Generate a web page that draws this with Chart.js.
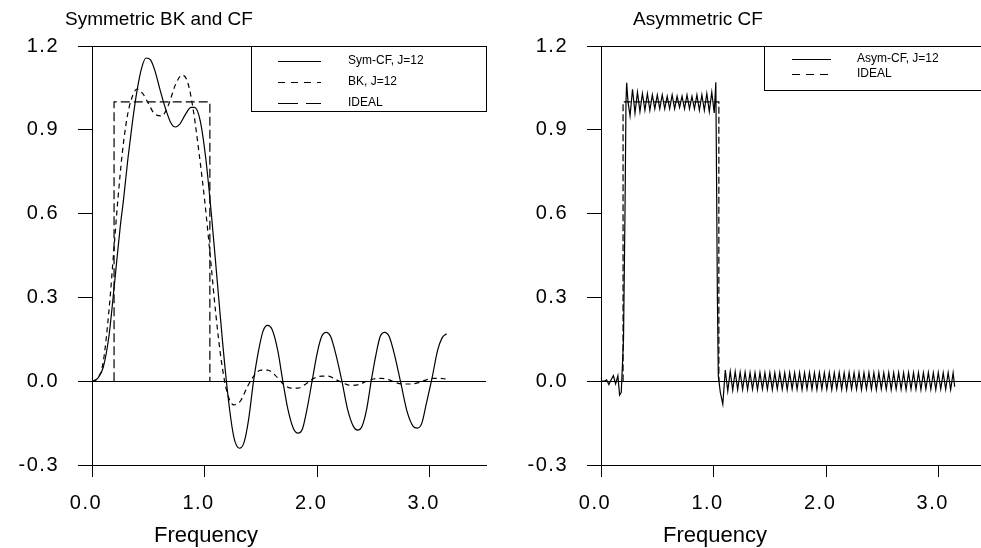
<!DOCTYPE html>
<html>
<head>
<meta charset="utf-8">
<script src="https://cdn.jsdelivr.net/npm/chart.js@4/dist/chart.umd.min.js"></script>
<style>
  html, body { margin: 0; padding: 0; background: #fff; overflow: hidden; }
  #left { position: absolute; left: 0; top: 0; width: 490px; height: 548px; }
  #right { position: absolute; left: 490px; top: 0; width: 510px; height: 548px; }
  canvas { display: block; }
</style>
</head>
<body>
<div id="left"><canvas id="c1" width="490" height="548"></canvas></div>
<div id="right"><canvas id="c2" width="510" height="548"></canvas></div>
<script>
const xTicks = [0, 1, 2, 3];
const yTicks = [-0.3, 0, 0.3, 0.6, 0.9, 1.2];

// left panel: symmetric CF filter
const symFreq = [0, 0.05, 0.1, 0.15, 0.2, 0.25, 0.28, 0.32, 0.36, 0.4, 0.44, 0.48, 0.52, 0.56, 0.6, 0.65,
  0.7, 0.74, 0.78, 0.83, 0.88, 0.91, 0.96, 1.01, 1.06, 1.11, 1.16, 1.21, 1.26, 1.31, 1.35, 1.39,
  1.435, 1.48, 1.52, 1.56, 1.6, 1.65, 1.695, 1.74, 1.79, 1.83, 1.87, 1.91, 1.955, 2.0, 2.04, 2.08,
  2.12, 2.17, 2.22, 2.27, 2.32, 2.36, 2.4, 2.44, 2.48, 2.52, 2.56, 2.6, 2.64, 2.69, 2.745, 2.8,
  2.85, 2.89, 2.93, 2.97, 3.02, 3.07, 3.11, 3.15];
const symVal = [0, 0.01, 0.05, 0.16, 0.35, 0.55, 0.65, 0.8, 0.93, 1.04, 1.12, 1.157, 1.15, 1.11, 1.05, 0.98,
  0.925, 0.91, 0.92, 0.955, 0.98, 0.98, 0.935, 0.8, 0.6, 0.37, 0.14, -0.06, -0.2, -0.24, -0.22, -0.14,
  0.0, 0.11, 0.18, 0.2, 0.185, 0.11, 0.0, -0.1, -0.17, -0.186, -0.17, -0.1, 0.0, 0.1, 0.16, 0.175,
  0.16, 0.09, 0.0, -0.1, -0.16, -0.175, -0.16, -0.1, 0.0, 0.09, 0.16, 0.175, 0.16, 0.09, -0.01, -0.11,
  -0.16, -0.168, -0.15, -0.08, 0.01, 0.11, 0.155, 0.17];

// left panel: Baxter-King filter
const bkFreq = [0, 0.05, 0.1, 0.15, 0.2, 0.23, 0.27, 0.31, 0.35, 0.4, 0.45, 0.5, 0.55, 0.62, 0.68, 0.74,
  0.8, 0.85, 0.9, 0.95, 1.0, 1.05, 1.1, 1.15, 1.2, 1.26, 1.32, 1.38, 1.44, 1.5, 1.56, 1.63, 1.7,
  1.77, 1.83, 1.9, 1.97, 2.04, 2.1, 2.17, 2.24, 2.3, 2.37, 2.44, 2.5, 2.57, 2.64, 2.7, 2.77, 2.84,
  2.9, 2.97, 3.03, 3.09, 3.14];
const bkVal = [0, 0.01, 0.07, 0.25, 0.5, 0.65, 0.82, 0.94, 1.01, 1.046, 1.03, 0.995, 0.96, 0.95, 0.99, 1.06,
  1.096, 1.07, 0.97, 0.82, 0.65, 0.45, 0.24, 0.07, -0.04, -0.085, -0.07, -0.02, 0.02, 0.04, 0.04, 0.02, -0.01,
  -0.025, -0.025, -0.01, 0.01, 0.018, 0.018, 0.005, -0.008, -0.015, -0.012, 0.0, 0.008, 0.01, 0.005, -0.005, -0.01, -0.01,
  -0.005, 0.005, 0.01, 0.01, 0.008];

// ideal band-pass (6 to 32 quarters)
const idealFreq = [0.196, 0.196, 1.047, 1.047];
const idealVal = [0, 1, 1, 0];

// right panel: asymmetric CF filter
const asymFreq = [0, 0.03, 0.05, 0.07, 0.09, 0.11, 0.13, 0.15, 0.165, 0.18, 0.2, 0.213, 0.222, 0.228, 0.24,
  0.258, 0.280, 0.302, 0.324, 0.346, 0.368, 0.390, 0.412, 0.434, 0.456,
  0.478, 0.500, 0.522, 0.544, 0.566, 0.588, 0.610, 0.632, 0.654, 0.676,
  0.698, 0.720, 0.742, 0.764, 0.786, 0.808, 0.830, 0.852, 0.874, 0.896,
  0.918, 0.940, 0.962, 0.984, 1.006,
  1.02, 1.026, 1.034, 1.042, 1.06, 1.082,
  1.104, 1.126, 1.148, 1.170, 1.192, 1.214, 1.236, 1.258, 1.280, 1.302,
  1.324, 1.346, 1.368, 1.390, 1.412, 1.434, 1.456, 1.478, 1.500, 1.522,
  1.544, 1.566, 1.588, 1.610, 1.632, 1.654, 1.676, 1.698, 1.720, 1.742,
  1.764, 1.786, 1.808, 1.830, 1.852, 1.874, 1.896, 1.918, 1.940, 1.962,
  1.984, 2.006, 2.028, 2.050, 2.072, 2.094, 2.116, 2.138, 2.160, 2.182,
  2.204, 2.226, 2.248, 2.270, 2.292, 2.314, 2.336, 2.358, 2.380, 2.402,
  2.424, 2.446, 2.468, 2.490, 2.512, 2.534, 2.556, 2.578, 2.600, 2.622,
  2.644, 2.666, 2.688, 2.710, 2.732, 2.754, 2.776, 2.798, 2.820, 2.842,
  2.864, 2.886, 2.908, 2.930, 2.952, 2.974, 2.996, 3.018, 3.040, 3.062,
  3.084, 3.106, 3.128, 3.142];
const asymVal = [0, 0, 0.005, -0.012, 0.005, 0.02, -0.01, 0.02, -0.05, -0.04, 0.15, 0.6, 1.0, 1.068, 1.0,
  0.95, 1.045, 0.96, 1.035, 0.965, 1.03, 0.97, 1.03, 0.97, 1.025,
  0.975, 1.025, 0.975, 1.025, 0.975, 1.02, 0.975, 1.025, 0.975, 1.02,
  0.98, 1.02, 0.975, 1.025, 0.975, 1.02, 0.975, 1.025, 0.97, 1.025,
  0.97, 1.03, 0.965, 1.035, 0.96,
  1.07, 0.75, 0.3, 0.02, -0.04, -0.082,
  0.04, -0.035, 0.035, -0.032, 0.034, -0.03, 0.032, -0.03, 0.032, -0.03,
  0.031, -0.029, 0.03, -0.03, 0.031, -0.028, 0.03, -0.029, 0.031, -0.03,
  0.03, -0.028, 0.031, -0.029, 0.03, -0.03, 0.031, -0.028, 0.03, -0.029,
  0.031, -0.03, 0.03, -0.028, 0.031, -0.029, 0.03, -0.03, 0.031, -0.028,
  0.03, -0.029, 0.031, -0.03, 0.03, -0.028, 0.031, -0.029, 0.03, -0.03,
  0.031, -0.028, 0.03, -0.029, 0.031, -0.03, 0.03, -0.028, 0.031, -0.029,
  0.03, -0.03, 0.031, -0.028, 0.03, -0.029, 0.031, -0.03, 0.03, -0.028,
  0.031, -0.029, 0.03, -0.03, 0.031, -0.028, 0.03, -0.029, 0.031, -0.03,
  0.03, -0.028, 0.031, -0.029, 0.03, -0.03, 0.031, -0.028, 0.03, -0.029,
  0.031, -0.03, 0.03, -0.02];

const pts = (xs, ys) => xs.map((x, i) => ({ x: x, y: ys[i] }));
const FONT = '"Liberation Sans", Arial, sans-serif';
const TICK_PX = 20;

function line(label, xs, ys, dash, smooth) {
  return {
    label: label,
    data: pts(xs, ys),
    borderColor: "#000",
    borderWidth: 1.2,
    borderDash: dash,
    pointRadius: 0,
    fill: false,
    tension: 0,
    cubicInterpolationMode: smooth ? "monotone" : "default",
  };
}

// titles, x tick labels, axis caption and boxed legend
function panelText(o) {
  return {
    id: "panelText",
    beforeDraw(chart) {
      chart.ctx.letterSpacing = "1.5px";
    },
    afterDraw(chart) {
      const ctx = chart.ctx;
      const a = chart.chartArea;
      const xs = chart.scales.x;
      ctx.save();
      ctx.fillStyle = "#000";
      ctx.font = TICK_PX + "px " + FONT;
      ctx.letterSpacing = "1.5px";
      ctx.textAlign = "center";
      ctx.textBaseline = "middle";
      xTicks.forEach((v) => {
        ctx.fillText(v.toFixed(1), xs.getPixelForValue(v) - 6, 503);
      });

      ctx.letterSpacing = "0px";
      ctx.font = "19px " + FONT;
      ctx.textAlign = "left";
      ctx.fillText(o.title, o.titleX, 20);
      ctx.font = "22px " + FONT;
      ctx.textAlign = "center";
      ctx.textBaseline = "alphabetic";
      ctx.fillText("Frequency", o.freqX, 542);

      ctx.fillStyle = "#fff";
      ctx.fillRect(o.boxLeft, a.top, a.right - o.boxLeft, o.boxBottom - a.top);
      ctx.strokeStyle = "#000";
      ctx.lineWidth = 1;
      ctx.strokeRect(o.boxLeft + 0.5, a.top + 0.5, a.right - o.boxLeft, o.boxBottom - a.top);
      ctx.fillStyle = "#000";
      ctx.font = "12px " + FONT;
      ctx.textAlign = "left";
      ctx.textBaseline = "middle";
      chart.data.datasets.forEach((ds, i) => {
        const y = o.rows[i];
        ctx.setLineDash(o.dashes[i]);
        ctx.beginPath();
        ctx.moveTo(o.lineX0, y + 0.5);
        ctx.lineTo(o.lineX1, y + 0.5);
        ctx.stroke();
        ctx.setLineDash([]);
        ctx.fillText(ds.label, o.textX, y);
      });
      ctx.restore();
    },
  };
}

function makeChart(id, datasets, xMax, yWidth, padRight, text) {
  const tickFont = { family: FONT, size: TICK_PX };
  return new Chart(document.getElementById(id), {
    type: "line",
    data: { datasets: datasets },
    options: {
      responsive: false,
      animation: false,
      layout: { padding: { top: 46, right: padRight, left: 0, bottom: 0 } },
      plugins: { legend: { display: false }, tooltip: { enabled: false } },
      scales: {
        x: {
          type: "linear",
          min: 0,
          max: xMax,
          afterFit: (s) => { s.height = 83; },
          afterBuildTicks: (s) => { s.ticks = xTicks.map((v) => ({ value: v })); },
          grid: { drawOnChartArea: false, tickLength: 12, tickColor: "#000", tickWidth: 1 },
          border: { color: "#000", width: 1 },
          ticks: { display: false },
        },
        y: {
          type: "linear",
          min: -0.3,
          max: 1.2,
          afterFit: (s) => { s.width = yWidth; },
          afterBuildTicks: (s) => { s.ticks = yTicks.map((v) => ({ value: v })); },
          grid: {
            color: (c) => (c.tick && (c.tick.value === 0 || c.tick.value === 1.2) ? "#000" : "rgba(0,0,0,0)"),
            tickColor: "#000",
            tickLength: 14,
            lineWidth: 1,
          },
          border: { color: "#000", width: 1 },
          ticks: { color: "#000", padding: 19, autoSkip: false, font: tickFont,
            callback: (v) => v.toFixed(1) },
        },
      },
    },
    plugins: [panelText(text)],
  });
}

makeChart("c1", [
  line("Sym-CF, J=12", symFreq, symVal, [], true),
  line("BK, J=12", bkFreq, bkVal, [5, 4], true),
  line("IDEAL", idealFreq, idealVal, [9, 4], false),
], 3.5, 92, 4, {
  title: "Symmetric BK and CF", titleX: 65, freqX: 206,
  boxLeft: 251, boxBottom: 111, lineX0: 278, lineX1: 321, textX: 348,
  rows: [61, 82, 103], dashes: [[], [7, 6], [20, 8]],
});

makeChart("c2", [
  line("Asym-CF, J=12", asymFreq, asymVal, [], false),
  line("IDEAL", idealFreq, idealVal, [7, 3], false),
], 3.5, 111, 5, {
  title: "Asymmetric CF", titleX: 143, freqX: 225,
  boxLeft: 274, boxBottom: 90, lineX0: 302, lineX1: 341, textX: 367,
  rows: [59, 74], dashes: [[], [8, 6]],
});
</script>
</body>
</html>
